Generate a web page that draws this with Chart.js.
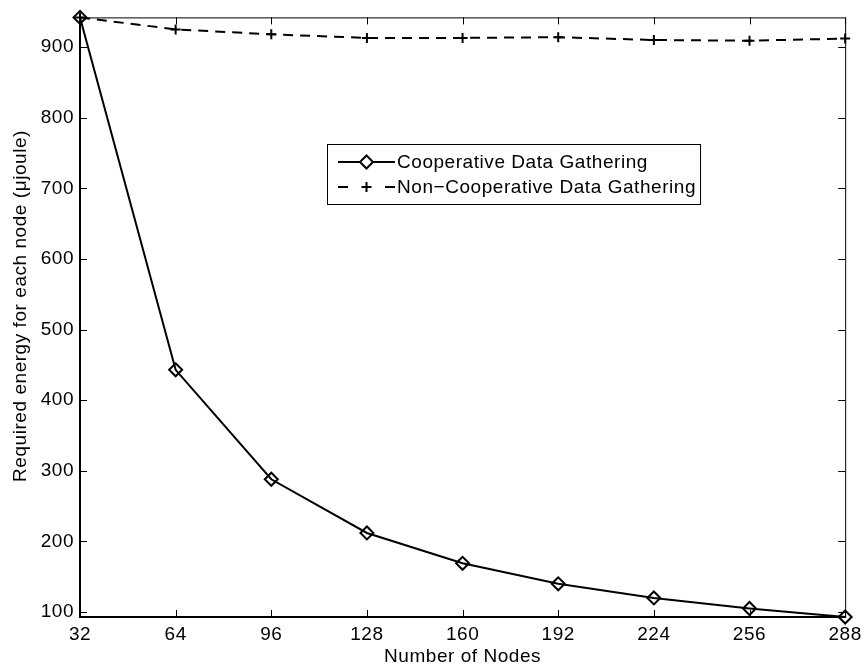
<!DOCTYPE html>
<html>
<head>
<meta charset="utf-8">
<script src="https://cdn.jsdelivr.net/npm/chart.js@4.4.0/dist/chart.umd.min.js"></script>
<style>
  html, body { margin: 0; padding: 0; background: #fff; }
  #wrap { width: 867px; height: 670px; }
</style>
</head>
<body>
<div id="wrap"><canvas id="energy-chart"></canvas></div>
<script>
// data
const nodeCounts = [32, 64, 96, 128, 160, 192, 224, 256, 288];
const coopEnergy = [942, 443, 288, 212, 169, 140, 120, 105, 93];
const nonCoopEnergy = [942, 925, 918, 913, 913, 914, 910, 909, 912];
const xTickValues = [32, 64, 96, 128, 160, 192, 224, 256, 288];
const yTickValues = [100, 200, 300, 400, 500, 600, 700, 800, 900];
const seriesLabels = ['Cooperative Data Gathering', 'Non\u2212Cooperative Data Gathering'];
const xTitle = 'Number of Nodes';
const yTitle = 'Required energy for each node (\u03bcjoule)';

const FONT = "'Liberation Sans', Arial, Helvetica, sans-serif";
const FSIZE = 19;
const TICK_IN = 7;

// matlab's helvetica is a touch wider
const spacingPlugin = {
    id: 'textSpacing',
    beforeDraw(chart) { chart.ctx.letterSpacing = '0.55px'; }
};

// matlab style box with inward ticks on all four sides
const boxPlugin = {
    id: 'matlabBox',
    afterDatasetsDraw(chart) {
        const { ctx, chartArea: a, scales } = chart;
        ctx.save();
        ctx.strokeStyle = '#000';
        ctx.lineWidth = 1;
        ctx.strokeRect(a.left + 0.5, a.top + 0.5, a.right - a.left, a.bottom - a.top);
        ctx.beginPath();
        scales.x.ticks.forEach(t => {
            const px = Math.round(scales.x.getPixelForValue(t.value)) + 0.5;
            ctx.moveTo(px, a.bottom); ctx.lineTo(px, a.bottom - TICK_IN);
            ctx.moveTo(px, a.top); ctx.lineTo(px, a.top + TICK_IN);
        });
        scales.y.ticks.forEach(t => {
            const py = Math.round(scales.y.getPixelForValue(t.value)) + 0.5;
            ctx.moveTo(a.left, py); ctx.lineTo(a.left + TICK_IN, py);
            ctx.moveTo(a.right, py); ctx.lineTo(a.right - TICK_IN, py);
        });
        ctx.stroke();

        // y title, placed where matlab puts it
        ctx.translate(21, 306);
        ctx.rotate(-Math.PI / 2);
        ctx.font = FSIZE + 'px ' + FONT;
        ctx.fillStyle = '#000';
        ctx.textAlign = 'center';
        ctx.textBaseline = 'middle';
        ctx.fillText(yTitle, 0, 0);
        ctx.restore();
    }
};

// legend box placed inside the axes like the matlab one
const legendPlugin = {
    id: 'insideLegend',
    afterDraw(chart) {
        const ctx = chart.ctx;
        const sets = chart.data.datasets;
        const boxX = 327, boxY = 144, rowH = 25;
        const lineX1 = 338, lineX2 = 395, textX = 397;
        ctx.save();
        ctx.font = FSIZE + 'px ' + FONT;
        let maxW = 0;
        sets.forEach(d => { maxW = Math.max(maxW, ctx.measureText(d.label).width); });
        const boxW = textX - boxX + maxW + 4;
        const boxH = rowH * sets.length + 10;
        ctx.fillStyle = '#fff';
        ctx.fillRect(boxX, boxY, boxW, boxH);
        ctx.strokeStyle = '#000';
        ctx.lineWidth = 1;
        ctx.strokeRect(boxX + 0.5, boxY + 0.5, boxW, boxH);

        sets.forEach((d, i) => {
            const cy = boxY + 18 + i * rowH;
            const mid = (lineX1 + lineX2) / 2;
            ctx.strokeStyle = d.borderColor;
            ctx.lineWidth = d.borderWidth;
            ctx.beginPath();
            if (d.borderDash) {
                ctx.moveTo(lineX1, cy); ctx.lineTo(lineX1 + 10, cy);
                ctx.moveTo(lineX2 - 10, cy); ctx.lineTo(lineX2, cy);
            } else {
                ctx.moveTo(lineX1, cy); ctx.lineTo(lineX2, cy);
            }
            ctx.stroke();
            ctx.fillStyle = '#fff';
            Chart.helpers.drawPoint(ctx, {
                pointStyle: d.pointStyle,
                radius: d.pointRadius,
                borderWidth: d.pointBorderWidth,
                rotation: 0
            }, mid, cy);
            ctx.fillStyle = '#000';
            ctx.textBaseline = 'middle';
            ctx.textAlign = 'left';
            ctx.fillText(d.label, textX, cy + 1);
        });
        ctx.restore();
    }
};

new Chart(document.querySelector('#energy-chart').getContext('2d'), {
    type: 'line',
    data: {
        labels: nodeCounts,
        datasets: [
            {
                label: seriesLabels[0],
                data: nodeCounts.map((n, i) => ({ x: n, y: coopEnergy[i] })),
                borderColor: '#000',
                borderWidth: 2,
                pointStyle: 'rectRot',
                pointRadius: 6.5,
                pointBorderWidth: 2,
                pointBackgroundColor: 'rgba(0,0,0,0)',
                pointBorderColor: '#000',
                tension: 0,
                clip: false
            },
            {
                label: seriesLabels[1],
                data: nodeCounts.map((n, i) => ({ x: n, y: nonCoopEnergy[i] })),
                borderColor: '#000',
                borderWidth: 2,
                borderDash: [10, 7],
                pointStyle: 'cross',
                pointRadius: 5,
                pointBorderWidth: 2,
                pointBackgroundColor: 'rgba(0,0,0,0)',
                pointBorderColor: '#000',
                tension: 0,
                clip: false
            }
        ]
    },
    options: {
        responsive: true,
        maintainAspectRatio: false,
        animation: false,
        layout: { padding: { left: 0, top: 13, right: 21, bottom: 0 } },
        plugins: {
            legend: { display: false },
            tooltip: { enabled: false }
        },
        scales: {
            x: {
                type: 'linear',
                min: 32,
                max: 288,
                afterBuildTicks: scale => { scale.ticks = xTickValues.map(v => ({ value: v })); },
                afterFit: scale => { scale.height = 53; },
                grid: { display: false, drawTicks: false },
                border: { display: true, color: '#000', width: 2 },
                ticks: {
                    color: '#000',
                    padding: 6,
                    maxRotation: 0,
                    autoSkip: false,
                    font: { family: FONT, size: FSIZE }
                },
                title: {
                    display: true,
                    text: xTitle,
                    color: '#000',
                    font: { family: FONT, size: FSIZE },
                    padding: { top: 0, bottom: 2 }
                }
            },
            y: {
                min: 93,
                max: 942,
                afterBuildTicks: scale => { scale.ticks = yTickValues.map(v => ({ value: v })); },
                afterFit: scale => { scale.width = 80; },
                grid: { display: false, drawTicks: false },
                border: { display: true, color: '#000', width: 2 },
                ticks: {
                    color: '#000',
                    padding: 6,
                    font: { family: FONT, size: FSIZE }
                }
            }
        }
    },
    plugins: [spacingPlugin, boxPlugin, legendPlugin]
});
</script>
</body>
</html>
